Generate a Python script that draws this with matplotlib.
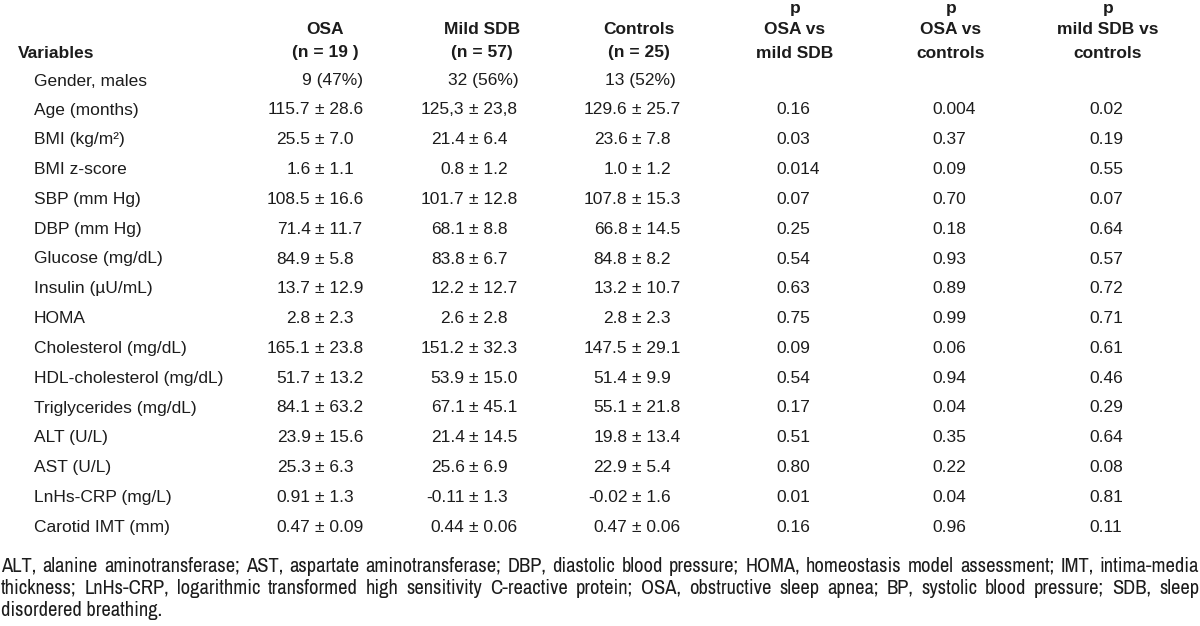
"""Table of clinical variables by group (OSA, mild SDB, controls)."""

import matplotlib
matplotlib.use("Agg")
import matplotlib.pyplot as plt
from matplotlib import font_manager

# ---- data -------------------------------------------------------------
variables = [
    "Gender, males", "Age (months)", "BMI (kg/m²)", "BMI z-score",
    "SBP (mm Hg)", "DBP (mm Hg)", "Glucose (mg/dL)", "Insulin (\u00b5U/mL)",
    "HOMA", "Cholesterol (mg/dL)", "HDL-cholesterol (mg/dL)",
    "Triglycerides (mg/dL)", "ALT (U/L)", "AST (U/L)", "LnHs-CRP (mg/L)",
    "Carotid IMT (mm)",
]
osa = [
    "9 (47%)", "115.7 ± 28.6", "25.5 ± 7.0", "1.6 ± 1.1", "108.5 ± 16.6",
    "71.4 ± 11.7", "84.9 ± 5.8", "13.7 ± 12.9", "2.8 ± 2.3", "165.1 ± 23.8",
    "51.7 ± 13.2", "84.1 ± 63.2", "23.9 ± 15.6", "25.3 ± 6.3", "0.91 ± 1.3",
    "0.47 ± 0.09",
]
mild_sdb = [
    "32 (56%)", "125,3 ± 23,8", "21.4 ± 6.4", "0.8 ± 1.2", "101.7 ± 12.8",
    "68.1 ± 8.8", "83.8 ± 6.7", "12.2 ± 12.7", "2.6 ± 2.8", "151.2 ± 32.3",
    "53.9 ± 15.0", "67.1 ± 45.1", "21.4 ± 14.5", "25.6 ± 6.9", "-0.11 ± 1.3",
    "0.44 ± 0.06",
]
controls = [
    "13 (52%)", "129.6 ± 25.7", "23.6 ± 7.8", "1.0 ± 1.2", "107.8 ± 15.3",
    "66.8 ± 14.5", "84.8 ± 8.2", "13.2 ± 10.7", "2.8 ± 2.3", "147.5 ± 29.1",
    "51.4 ± 9.9", "55.1 ± 21.8", "19.8 ± 13.4", "22.9 ± 5.4", "-0.02 ± 1.6",
    "0.47 ± 0.06",
]
p_osa_mild = ["", "0.16", "0.03", "0.014", "0.07", "0.25", "0.54", "0.63",
              "0.75", "0.09", "0.54", "0.17", "0.51", "0.80", "0.01", "0.16"]
p_osa_ctrl = ["", "0.004", "0.37", "0.09", "0.70", "0.18", "0.93", "0.89",
              "0.99", "0.06", "0.94", "0.04", "0.35", "0.22", "0.04", "0.96"]
p_mild_ctrl = ["", "0.02", "0.19", "0.55", "0.07", "0.64", "0.57", "0.72",
               "0.71", "0.61", "0.46", "0.29", "0.64", "0.08", "0.81", "0.11"]

group_headers = [("OSA", "(n = 19 )"), ("Mild SDB", "(n = 57)"),
                 ("Controls", "(n = 25)")]
p_headers = [("p", "OSA vs", "mild SDB"), ("p", "OSA vs", "controls"),
             ("p", "mild SDB vs", "controls")]

footnote_lines = [
    "ALT, alanine aminotransferase; AST, aspartate aminotransferase; DBP, "
    "diastolic blood pressure; HOMA, homeostasis model assessment; IMT, intima-media",
    "thickness; LnHs-CRP, logarithmic transformed high sensitivity C-reactive "
    "protein; OSA, obstructive sleep apnea; BP, systolic blood pressure; SDB, sleep",
    "disordered breathing.",
]

# ---- fonts ------------------------------------------------------------
installed = {f.name for f in font_manager.fontManager.ttflist}
body_font = ["Liberation Sans", "DejaVu Sans"]
narrow = [n for n in ("Liberation Sans Narrow", "Arial Narrow", "Archivo Narrow",
                      "Roboto Condensed", "PT Sans Narrow", "Pragati Narrow")
          if n in installed]
note_font = narrow[:1] + body_font
plt.rcParams["font.family"] = body_font

ink = "#1c1c1c"
fs = 12.5

fig = plt.figure(figsize=(12, 6.26), dpi=100)
ax = fig.add_axes([0, 0, 1, 1])
ax.set_xlim(0, 1200)
ax.set_ylim(626, 0)
ax.axis("off")

head_y = [8, 30, 53]
row_y0, row_dy = 110, 29.8
gender_y = 81

group_center = [325, 482, 639]
group_pm = [315, 469, 632]
group_left = [302, 448, 605]
p_center = [795, 951, 1108]
p_left = [776, 932, 1089]

ax.text(18, head_y[2], "Variables", ha="left", va="center",
        fontsize=fs, fontweight="bold", color=ink)
for (h1, h2), xc in zip(group_headers, group_center):
    ax.text(xc, head_y[1], h1, ha="center", va="center", fontsize=fs,
            fontweight="bold", color=ink)
    ax.text(xc, head_y[2], h2, ha="center", va="center", fontsize=fs,
            fontweight="bold", color=ink)
for lines, xc in zip(p_headers, p_center):
    for line, yy in zip(lines, head_y):
        ax.text(xc, yy, line, ha="center", va="center", fontsize=fs,
                fontweight="bold", color=ink)


def put_value(s, x_pm, x_left, y):
    if " ± " in s:
        mean, sd = s.split(" ± ")
        ax.text(x_pm - 4.5, y, mean, ha="right", va="center", fontsize=fs, color=ink)
        ax.text(x_pm, y, "± " + sd, ha="left", va="center", fontsize=fs, color=ink)
    else:
        ax.text(x_left, y, s, ha="left", va="center", fontsize=fs, color=ink)


for i, name in enumerate(variables):
    y = gender_y if i == 0 else row_y0 + (i - 1) * row_dy
    ax.text(34, y, name, ha="left", va="center", fontsize=fs, color=ink)
    for col, xpm, xl in zip((osa, mild_sdb, controls), group_pm, group_left):
        put_value(col[i], xpm, xl, y)
    for col, xl in zip((p_osa_mild, p_osa_ctrl, p_mild_ctrl), p_left):
        if col[i]:
            ax.text(xl, y, col[i], ha="left", va="center", fontsize=fs, color=ink)

# ---- footnote, justified like the source ---------------------------------
renderer = fig.canvas.get_renderer()
x0, x1 = 1, 1199
note_fs = 20.0
probe = ax.text(0, 0, footnote_lines[0], fontsize=note_fs, family=note_font)
while probe.get_window_extent(renderer).width > (x1 - x0) * 0.985 and note_fs > 8:
    note_fs -= 0.25
    probe.set_fontsize(note_fs)
probe.remove()
note_fs = min(note_fs, 16.0)

note_base = [572, 594, 616]
for k, (line, yy) in enumerate(zip(footnote_lines, note_base)):
    if k == len(footnote_lines) - 1:
        ax.text(x0, yy, line, ha="left", va="baseline", fontsize=note_fs,
                family=note_font, color=ink)
        continue
    words = line.split(" ")
    texts = [ax.text(0, yy, w, ha="left", va="baseline", fontsize=note_fs,
                     family=note_font, color=ink) for w in words]
    widths = [t.get_window_extent(renderer).width for t in texts]
    gap = (x1 - x0 - sum(widths)) / (len(words) - 1)
    x = x0
    for t, w in zip(texts, widths):
        t.set_x(x)
        x += w + gap

fig.savefig("out.png", dpi=100, facecolor="white")
